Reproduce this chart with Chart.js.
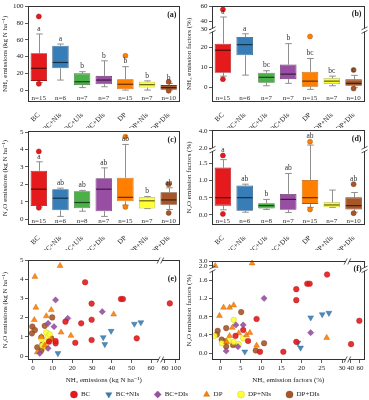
<!DOCTYPE html>
<html><head><meta charset="utf-8">
<script src="https://cdn.jsdelivr.net/npm/chart.js@4.4.1/dist/chart.umd.min.js"></script>
<style>
html,body{margin:0;padding:0;background:#fff;width:369px;height:400px;overflow:hidden;position:relative;}
canvas{position:absolute;}
</style></head><body>
<canvas id="ca" width="184" height="128" style="left:0;top:0"></canvas>
<canvas id="cb" width="185" height="128" style="left:184px;top:0"></canvas>
<canvas id="cc" width="184" height="130" style="left:0;top:120px"></canvas>
<canvas id="cd" width="185" height="130" style="left:184px;top:120px"></canvas>
<canvas id="ce" width="184" height="142" style="left:0;top:245px"></canvas>
<canvas id="cf" width="185" height="142" style="left:184px;top:245px"></canvas>
<canvas id="cl" width="350" height="80" style="left:20px;top:376px"></canvas>
<script>
// ---------------- DATA ----------------
const categories = ['BC','BC+NIs','BC+UIs','BC+DIs','DP','DP+NIs','DP+DIs'];

// (a) NH3 emissions (kg N ha-1)
const aQ1  = [11, 26, 6, 7, 1, 3, 0];
const aMed = [26, 33, 10, 12, 7, 6.5, 3];
const aQ3  = [44, 53, 20, 17, 13, 10, 6];
const aLo  = [9, 12, 3, 4, 0, 0, 0];
const aHi  = [67, 55, 22, 35, 28, 11, 8];
const aOut = [[88, 7.5], [], [], [], [41], [], [10, -0.8]];
const aLetters = ['a','a','b','b','b','b','b'];
const aN = ['n=15','n=6','n=7','n=7','n=15','n=7','n=10'];
const aTicks = [0, 20, 40, 60, 80, 100];

// (b) NH3 emission factors (%)
const bQ1  = [7.3, 16, 2.3, 4.1, 0.3, 1.7, 0.8];
const bMed = [18.5, 21.3, 5, 6.6, 3.1, 3.1, 2];
const bQ3  = [21.8, 25.1, 7.3, 11.4, 7.8, 4.5, 4];
const bLo  = [5.6, 6.1, 0.8, 2, -1, 0.8, 0];
const bHi  = [46, 26.7, 8.3, 21.8, 14.4, 5.6, 6];
const bOut = [[56, 4.1], [], [], [], [25.4], [], [8.7, -0.6]];
const bLetters = ['a','a','bc','b','bc','bc','c'];
const bN = ['n=15','n=6','n=7','n=7','n=15','n=7','n=10'];
const bTicks = [0, 10, 20, 30, 40, 60];

// (c) N2O emissions (kg N ha-1)
const cQ1  = [0.75, 0.5, 0.62, 0.45, 1.02, 0.6, 0.82];
const cMed = [1.72, 1.2, 0.95, 1.72, 1.25, 1.05, 1.1];
const cQ3  = [2.78, 1.72, 1.6, 2.35, 2.38, 1.25, 1.55];
const cLo  = [0.7, 0.15, 0.45, 0.15, 0.8, 0.6, 0.55];
const cHi  = [3.3, 1.78, 1.65, 2.95, 4.3, 1.3, 1.8];
const cOut = [[3.9, 0.65], [], [], [], [4.75, 0.7], [], [2.0, 0.35]];
const cLetters = ['a','ab','ab','ab','ab','b','ab'];
const cN = ['n=15','n=6','n=8','n=7','n=15','n=7','n=10'];
const cTicks = [0, 1, 2, 3, 4, 5];

// (d) N2O emission factors (%)
const dQ1  = [0.27, 0.12, 0.19, 0.15, 0.32, 0.22, 0.16];
const dMed = [0.5, 0.5, 0.27, 0.45, 0.5, 0.29, 0.27];
const dQ3  = [1.37, 0.85, 0.34, 0.61, 1.01, 0.37, 0.51];
const dLo  = [0.15, 0.08, 0.16, 0.07, 0.22, 0.22, 0.08];
const dHi  = [1.6, 0.89, 0.45, 1.2, 2.37, 0.72, 0.65];
const dOut = [[1.72, 0.03], [], [], [], [2.75, 0.16], [], [0.89, 0.05]];
const dLetters = ['a','ab','b','ab','ab','','ab'];
const dN = ['n=15','n=6','n=8','n=7','n=15','n=7','n=10'];
const dTicks = [0, 0.5, 1.0, 1.5, 2.0, 4.0];

// (e) N2O emissions vs NH3 emissions  [x, y]
const eBC = [[26.5,3.84],[29.8,2.73],[29.8,1.89],[29.8,0.83],[44.7,2.97],[45.7,2.97],[52.7,0.92],[89,2.74],[24.5,1.7],[16.5,1.79],[21.5,0.69],[11.5,0.66],[11.5,0.78],[8.2,0.75]];
const eBCNIs = [[12.7,0.14],[35.7,0.97],[36.5,0.61],[39.7,1.3],[51.5,1.67],[54.8,1.75]];
const eBCDIs = [[11.5,2.92],[35.2,2.31],[17.7,1.96],[7.7,1.7],[10.7,1.53],[7.7,0.4],[3.5,0.14]];
const eDP = [[1,4.13],[13.8,4.7],[1.5,2.53],[0.7,1.88],[9.3,2.4],[6.8,2.08],[41,2.17],[14.3,1.23],[19.3,1.06],[4.3,1.0],[7.7,0.73],[6,0.55],[9.3,0.86],[2.2,0.2]];
const eDPNIs = [[6.8,1.23],[7.7,1.0],[4.8,0.55],[6,0.73],[8.5,1.13],[4.3,0.88],[6.8,0.45]];
const eDPDIs = [[-0.3,1.53],[-0.5,1.18],[1,1.35],[6,1.57],[9.8,2.01],[4.3,0.97],[9.3,0.92],[4.8,0.6],[4.3,0.3],[2.2,0.45]];
const eXTicks = [0, 10, 20, 30, 40, 50, 60, 80, 100];
const eYTicks = [0, 1, 2, 3, 4, 5];

// (f) N2O EF vs NH3 EF  [x, y]
const fBC = [[18.7,1.40],[18.7,1.16],[21.4,1.52],[22,1.52],[26.3,1.72],[8.9,0.75],[5.6,0.51],[3.7,0.38],[6.8,0.27],[9.75,0.035],[15.5,0.035],[18.7,0.25],[41,0.2],[58.7,0.71]];
const fBCNIs = [[6,0.035],[19.1,0.23],[19.75,0.12],[22.25,0.78],[25.1,0.85],[26.75,0.88]];
const fBCDIs = [[10.75,1.2],[3.8,0.62],[5.6,0.62],[22.25,0.45],[4.3,0.145],[1.4,0.05]];
const fDP = [[-1.3,2.0],[7.8,2.6],[0.75,1.0],[2.25,1.0],[3.25,1.05],[-0.25,0.82],[2.9,0.56],[6.4,0.4],[7.25,0.45],[2.25,0.38],[4.5,0.44],[8.9,0.17],[26.2,0.34],[1.5,0.25]];
const fDPNIs = [[3.25,0.73],[-1.5,0.38],[4.5,0.2],[5.6,0.33],[3.25,0.25],[0.3,0.22],[2,0.28]];
const fDPDIs = [[5.1,0.9],[-0.7,0.49],[-0.9,0.41],[1.4,0.55],[0.3,0.3],[1.2,0.26],[3.1,0.18],[1.4,0.15],[8.7,0.06],[10.75,0.22]];
const fXTicks = [0, 5, 10, 15, 20, 25, 30, 40, 60];
const fYTicks = [0.0, 0.4, 0.8, 1.2, 1.6, 2.0, 3.0];

// ---------------- STYLE ----------------
const FONT = '"Liberation Serif","DejaVu Serif","Times New Roman",serif';
const groupColors = ['#e41a1c','#377eb8','#4daf4a','#984ea3','#ff7f00','#ffff33','#a65628'];
function shade(hex, f) {
  const n = parseInt(hex.slice(1), 16);
  const m = v => Math.round(v * (1 - f));
  return 'rgb(' + m((n >> 16) & 255) + ',' + m((n >> 8) & 255) + ',' + m(n & 255) + ')';
}
function rgba(hex, a) {
  const n = parseInt(hex.slice(1), 16);
  return 'rgba(' + ((n >> 16) & 255) + ',' + ((n >> 8) & 255) + ',' + (n & 255) + ',' + a + ')';
}

Chart.defaults.font.family = FONT;
Chart.defaults.font.size = 7;
Chart.defaults.color = '#222';
Chart.defaults.animation = false;
Chart.defaults.responsive = false;
Chart.defaults.maintainAspectRatio = false;
Chart.defaults.events = [];
Chart.defaults.plugins.legend.display = false;
Chart.defaults.plugins.tooltip.enabled = false;

// ---------------- BROKEN (KNEE) LINEAR SCALE ----------------
class KneeScale extends Chart.LinearScale {
  _k() { return this._knots || (this._knots = this.options.knots); }
  determineDataLimits() {
    this._knots = this.options.knots;
    const k = this._knots;
    this.min = k[0][0];
    this.max = k[k.length - 1][0];
  }
  buildTicks() {
    return this.options.tickValues.map(v => ({ value: v }));
  }
  _toFrac(v) {
    const k = this._k();
    for (let i = 1; i < k.length; i++) {
      if (v <= k[i][0] || i === k.length - 1) {
        const v0 = k[i-1][0], f0 = k[i-1][1], v1 = k[i][0], f1 = k[i][1];
        return f0 + (v - v0) * (f1 - f0) / (v1 - v0);
      }
    }
    return 0;
  }
  getPixelForValue(value) {
    if (value === null || value === undefined || isNaN(value)) return NaN;
    return this.getPixelForDecimal(this._toFrac(+value));
  }
  getValueForPixel(pixel) {
    const d = this.getDecimalForPixel(pixel);
    const k = this._k();
    for (let i = 1; i < k.length; i++) {
      if (d <= k[i][1] || i === k.length - 1) {
        const v0 = k[i-1][0], f0 = k[i-1][1], v1 = k[i][0], f1 = k[i][1];
        return v0 + (d - f0) * (v1 - v0) / (f1 - f0);
      }
    }
    return 0;
  }
}
KneeScale.id = 'knee';
Chart.register(KneeScale);

// ---------------- HELPERS ----------------
function yAxis(knots, ticks, title, dec) {
  return {
    type: 'knee', position: 'left', knots: knots, tickValues: ticks,
    afterFit: s => { s.width = 28; },
    border: { display: false },
    grid: { display: true, drawOnChartArea: false, drawTicks: true, tickLength: 3, color: '#333', lineWidth: 0.8 },
    ticks: { autoSkip: false, padding: 1.5, color: '#222', font: { size: 7 }, callback: v => (+v).toFixed(dec) },
    title: { display: true, text: title, color: '#222', font: { size: 7 }, padding: { top: 1, bottom: 0 } }
  };
}

function frameBreaks(p) {
  return {
    id: 'frameBreaks',
    afterDraw(chart) {
      const ctx = chart.ctx, a = chart.chartArea;
      const L = Math.round(a.left) + 0.5, R = Math.round(a.right) - 0.5;
      const T = Math.round(a.top) + 0.5, B = Math.round(a.bottom) - 0.5;
      ctx.save();
      ctx.strokeStyle = '#333'; ctx.lineWidth = 1;
      ctx.strokeRect(L, T, R - L, B - T);
      (p.yBreaks || []).forEach(v => {
        const py = chart.scales.y.getPixelForValue(v);
        [L, R].forEach(x0 => {
          ctx.fillStyle = '#fff'; ctx.fillRect(x0 - 1.5, py - 1.5, 3, 3);
          ctx.beginPath();
          ctx.moveTo(x0 - 3, py - 0.3); ctx.lineTo(x0 + 3, py - 3.3);
          ctx.moveTo(x0 - 3, py + 3.3); ctx.lineTo(x0 + 3, py + 0.3);
          ctx.lineWidth = 0.8; ctx.stroke();
        });
      });
      (p.xBreaks || []).forEach(v => {
        const px = chart.scales.x.getPixelForValue(v);
        [T, B].forEach(y0 => {
          ctx.fillStyle = '#fff'; ctx.fillRect(px - 1.5, y0 - 1.5, 3, 3);
          ctx.beginPath();
          ctx.moveTo(px - 3.3, y0 + 3); ctx.lineTo(px - 0.3, y0 - 3);
          ctx.moveTo(px + 0.3, y0 + 3); ctx.lineTo(px + 3.3, y0 - 3);
          ctx.lineWidth = 0.8; ctx.stroke();
        });
      });
      if (p.label) {
        ctx.font = 'bold 8px ' + FONT; ctx.fillStyle = '#222';
        ctx.textAlign = 'right'; ctx.textBaseline = 'middle';
        ctx.fillText(p.label, a.right - 3, a.top + p.labelDy);
      }
      ctx.restore();
    }
  };
}

function boxDecor(d) {
  return {
    id: 'boxDecor',
    beforeDatasetsDraw(chart) {
      const ctx = chart.ctx, ys = chart.scales.y, bars = chart.getDatasetMeta(0).data;
      ctx.save(); ctx.strokeStyle = '#8f8f8f'; ctx.lineWidth = 1;
      d.lo.forEach((lo, i) => {
        const b = bars[i]; if (!b) return;
        const cx = Math.round(b.x) + 0.5, cap = b.width * 0.2;
        const pLo = ys.getPixelForValue(lo), pHi = ys.getPixelForValue(d.hi[i]);
        const pQ1 = ys.getPixelForValue(d.q1[i]), pQ3 = ys.getPixelForValue(d.q3[i]);
        ctx.beginPath();
        ctx.moveTo(cx, pQ1); ctx.lineTo(cx, pLo);
        ctx.moveTo(cx, pQ3); ctx.lineTo(cx, pHi);
        ctx.moveTo(cx - cap, pLo); ctx.lineTo(cx + cap, pLo);
        ctx.moveTo(cx - cap, pHi); ctx.lineTo(cx + cap, pHi);
        ctx.stroke();
      });
      ctx.restore();
    },
    afterDatasetsDraw(chart) {
      const ctx = chart.ctx, ys = chart.scales.y, bars = chart.getDatasetMeta(0).data, a = chart.chartArea;
      ctx.save();
      d.med.forEach((m, i) => {
        const b = bars[i]; if (!b) return;
        const py = ys.getPixelForValue(m);
        ctx.strokeStyle = shade(groupColors[i], 0.62); ctx.lineWidth = 1.2;
        ctx.beginPath(); ctx.moveTo(b.x - b.width / 2 + 0.5, py); ctx.lineTo(b.x + b.width / 2 - 0.5, py); ctx.stroke();
      });
      ctx.fillStyle = '#333'; ctx.textAlign = 'center';
      ctx.font = '7.5px ' + FONT; ctx.textBaseline = 'bottom';
      d.letters.forEach((t, i) => {
        const b = bars[i]; if (!b || !t) return;
        let top = d.hi[i];
        if (d.anchor === 'top') d.out[i].forEach(v => { if (v > top) top = v; });
        ctx.fillText(t, b.x, ys.getPixelForValue(top) - 1.5);
      });
      ctx.font = '7px ' + FONT; ctx.textBaseline = 'alphabetic';
      d.n.forEach((t, i) => {
        const b = bars[i]; if (!b) return;
        ctx.fillText(t, b.x, a.bottom - 2.5);
      });
      ctx.restore();
    }
  };
}

function boxPanel(id, d) {
  const edge = groupColors.map(c => shade(c, 0.3));
  const pts = [], pc = [], pb = [];
  d.out.forEach((arr, i) => arr.forEach(v => { pts.push({ x: categories[i], y: v }); pc.push(groupColors[i]); pb.push(edge[i]); }));
  const cv = document.getElementById(id);
  new Chart(cv, {
    type: 'bar',
    data: {
      labels: categories,
      datasets: [
        { type: 'bar', order: 2, grouped: false, data: d.q1.map((v, i) => [v, d.q3[i]]),
          backgroundColor: groupColors, borderColor: edge, borderWidth: 0.8, borderSkipped: false,
          barPercentage: 0.76, categoryPercentage: 1 },
        { type: 'scatter', order: 1, data: pts, clip: false, pointRadius: 2.5,
          pointBackgroundColor: pc, pointBorderColor: pb, pointBorderWidth: 0.5 }
      ]
    },
    options: {
      layout: { padding: { left: 0, top: d.top, right: d.right, bottom: 0 } },
      scales: {
        x: { type: 'category', offset: true, grid: { display: false }, border: { display: false },
             afterFit: s => { s.height = d.xh; },
             ticks: { autoSkip: false, minRotation: 45, maxRotation: 45, padding: 1, color: '#222', font: { size: 7 } } },
        y: yAxis(d.knots, d.ticks, d.title, d.dec)
      }
    },
    plugins: [boxDecor(d), frameBreaks(d)]
  });
}

const scatterGroups = [
  { name: 'BC',     c: 0, style: 'circle',   rot: 0,   r: 2.8 },
  { name: 'BC+NIs', c: 1, style: 'triangle', rot: 180, r: 3.4 },
  { name: 'BC+DIs', c: 3, style: 'rectRot',  rot: 0,   r: 3.1 },
  { name: 'DP',     c: 4, style: 'triangle', rot: 0,   r: 3.4 },
  { name: 'DP+NIs', c: 5, style: 'circle',   rot: 0,   r: 2.8 },
  { name: 'DP+DIs', c: 6, style: 'circle',   rot: 0,   r: 2.8 }
];

function scatterPanel(id, d) {
  new Chart(document.getElementById(id), {
    type: 'scatter',
    data: {
      datasets: scatterGroups.map((g, gi) => ({
        label: g.name, clip: false,
        data: d.series[gi].map(p => ({ x: p[0], y: p[1] })),
        pointStyle: g.style, pointRotation: g.rot, pointRadius: g.r,
        pointBackgroundColor: rgba(groupColors[g.c], 0.9), pointBorderColor: shade(groupColors[g.c], 0.25), pointBorderWidth: 0.4,
        backgroundColor: groupColors[g.c], borderColor: shade(groupColors[g.c], 0.25)
      }))
    },
    options: {
      layout: { padding: { left: 0, top: d.top, right: d.right, bottom: 0 } },
      scales: {
        x: { type: 'knee', position: 'bottom', knots: d.xKnots, tickValues: d.xTicks,
             afterFit: s => { s.height = d.xh; },
             border: { display: false },
             grid: { display: true, drawOnChartArea: false, drawTicks: true, tickLength: 3, color: '#333', lineWidth: 0.8 },
             ticks: { autoSkip: false, maxRotation: 0, padding: 1, color: '#222', font: { size: 7 }, callback: v => String(v) },
             title: { display: true, text: d.xTitle, color: '#222', font: { size: 7 }, padding: { top: 0, bottom: 3 } } },
        y: yAxis(d.yKnots, d.yTicks, d.yTitle, d.dec)
      }
    },
    plugins: [frameBreaks(d)]
  });
}

// ---------------- PANELS ----------------
boxPanel('ca', { q1: aQ1, med: aMed, q3: aQ3, lo: aLo, hi: aHi, out: aOut, letters: aLetters, n: aN,
  knots: [[-14.2, 0], [100.8, 1]], ticks: aTicks, dec: 0, title: 'NH\u2083 emissions (kg N ha\u207B\u00B9)',
  top: 5, right: 2, xh: 26, label: '(a)', labelDy: 9, anchor: 'whisker' });

boxPanel('cb', { q1: bQ1, med: bMed, q3: bQ3, lo: bLo, hi: bHi, out: bOut, letters: bLetters, n: bN,
  knots: [[-7.3, 0], [28, 0.735], [30, 0.758], [61.1, 1]], ticks: bTicks, dec: 0, title: 'NH\u2083 emission factors (%)',
  top: 5, right: 3, xh: 26, label: '(b)', labelDy: 8, anchor: 'whisker', yBreaks: [29] });

boxPanel('cc', { q1: cQ1, med: cMed, q3: cQ3, lo: cLo, hi: cHi, out: cOut, letters: cLetters, n: cN,
  knots: [[-0.345, 0], [5.075, 1]], ticks: cTicks, dec: 0, title: 'N\u2082O emissions (kg N ha\u207B\u00B9)',
  top: 11, right: 2, xh: 25, label: '(c)', labelDy: 9, anchor: 'whisker' });

boxPanel('cd', { q1: dQ1, med: dMed, q3: dQ3, lo: dLo, hi: dHi, out: dOut, letters: dLetters, n: dN,
  knots: [[-0.29, 0], [1.85, 0.779], [2.0, 0.807], [4.08, 1]], ticks: dTicks, dec: 1, title: 'N\u2082O emission factors (%)',
  top: 10, right: 3, xh: 25, label: '(d)', labelDy: 9, anchor: 'top', yBreaks: [1.925] });

scatterPanel('ce', { series: [eBC, eBCNIs, eBCDIs, eDP, eDPNIs, eDPDIs],
  xKnots: [[-2.5, 0], [63, 0.851], [78, 0.896], [107, 1]], xTicks: eXTicks,
  yKnots: [[-0.208, 0], [5, 1]], yTicks: eYTicks, dec: 0,
  xTitle: 'NH\u2083 emissions (kg N ha\u207B\u00B9)', yTitle: 'N\u2082O emissions (kg N ha\u207B\u00B9)',
  top: 15, right: 2, xh: 27, label: '(e)', labelDy: 19, xBreaks: [70.5] });

scatterPanel('cf', { series: [fBC, fBCNIs, fBCDIs, fDP, fDPNIs, fDPDIs],
  xKnots: [[-2.1, 0], [31, 0.879], [36, 0.896], [70, 1]], xTicks: fXTicks,
  yKnots: [[-0.146, 0], [1.76, 0.882], [1.95, 0.949], [3.1, 1]], yTicks: fYTicks, dec: 1,
  xTitle: 'NH\u2083 emission factors (%)', yTitle: 'N\u2082O emission factors (%)',
  top: 16, right: 3, xh: 27, label: '(f)', labelDy: 8, xBreaks: [33.5], yBreaks: [1.855] });

// ---------------- LEGEND ----------------
new Chart(document.getElementById('cl'), {
  type: 'scatter',
  data: { datasets: [] },
  options: {
    layout: { padding: 0 },
    scales: { x: { display: false }, y: { display: false } },
    plugins: {
      legend: {
        display: true, position: 'top',
        labels: {
          usePointStyle: true, boxWidth: 7, boxHeight: 5, padding: 15, color: '#222', font: { size: 7 },
          generateLabels: () => scatterGroups.map(g => ({
            text: g.name, fillStyle: groupColors[g.c], strokeStyle: shade(groupColors[g.c], 0.25), lineWidth: 0.4,
            pointStyle: g.style, rotation: g.rot, hidden: false, fontColor: '#222'
          }))
        }
      }
    }
  }
});
</script>
</body></html>
